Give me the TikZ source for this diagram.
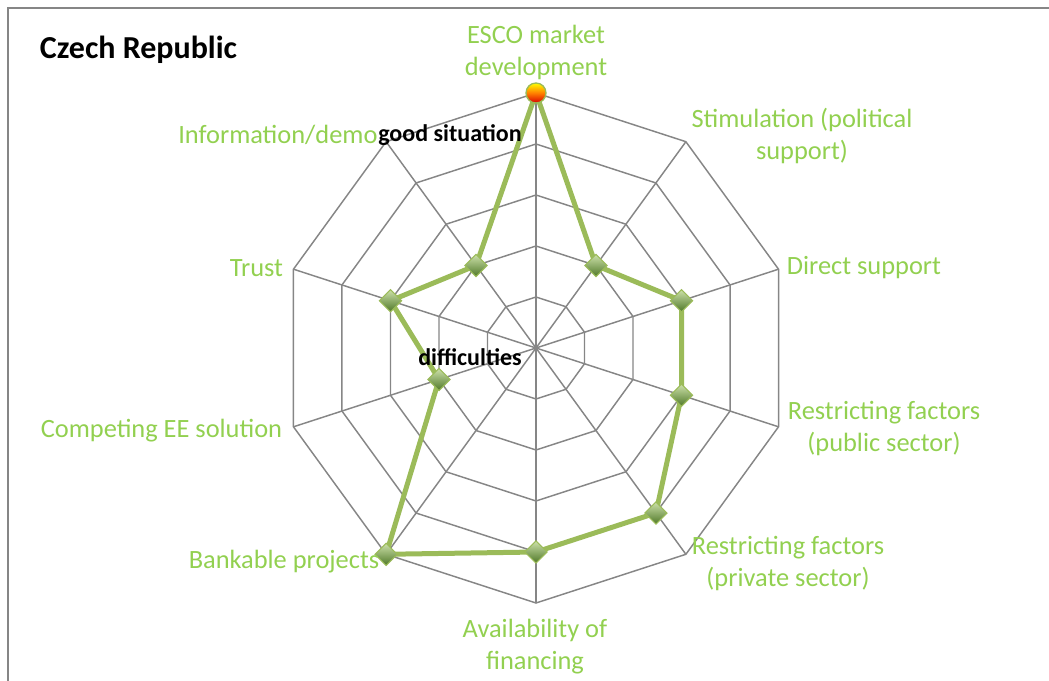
\documentclass[tikz,border=0pt]{standalone}
\usepackage{fontspec}
\setmainfont{Carlito}
\usetikzlibrary{shapes.geometric}

\definecolor{lblgreen}{RGB}{146,208,80}
\definecolor{linegreen}{RGB}{155,187,89}
\definecolor{gridgray}{RGB}{134,134,134}
\definecolor{darkgreen}{RGB}{79,120,40}
\definecolor{lightgreen}{RGB}{205,225,170}

\tikzset{
  gridline/.style={gridgray, line width=1.1pt},
  axislabel/.style={text=lblgreen, font=\fontsize{19.8}{24}\selectfont, align=center, inner sep=0pt},
  blacklabel/.style={font=\bfseries\fontsize{18}{22}\selectfont, inner sep=0pt},
  datamark/.style={diamond, draw=linegreen, line width=0.8pt, top color=lightgreen, bottom color=darkgreen, minimum size=17pt, inner sep=0pt},
  topmark/.style={circle, draw=linegreen, line width=1pt, top color=yellow, bottom color=red!85!black, middle color=orange, minimum size=15pt, inner sep=0pt}
}

\begin{document}
\begin{tikzpicture}[x=0.75pt, y=0.75pt]
    \useasboundingbox (-536,-333) rectangle (513,348);
    % frame
    \draw[gridgray, line width=1.4pt] (-528,-333) -- (-528,340) -- (513,340);

    \coordinate (o) at (0,0);

    % rings and spokes
    \foreach \r in {51,102,153,204,255}
        \draw[gridgray, line width=1.1pt] (90:\r) -- (54:\r) -- (18:\r) -- (-18:\r) -- (-54:\r)
            -- (-90:\r) -- (-126:\r) -- (-162:\r) -- (162:\r) -- (126:\r) -- cycle;
    \foreach \i in {1,...,10} {
        \coordinate (a\i) at ({126-36*\i}:255);
        \draw[gridline] (o) -- (a\i);
    }

    % data points
    \foreach \i/\v in {1/5,2/2,3/3,4/3,5/4,6/4,7/5,8/2,9/3,10/2}
        \coordinate (p\i) at ({126-36*\i}:{51*\v});
    \draw[linegreen, line width=3.75pt, line join=round]
        (p1) -- (p2) -- (p3) -- (p4) -- (p5) -- (p6) -- (p7) -- (p8) -- (p9) -- (p10) -- cycle;
    \foreach \i in {2,...,10} \node[datamark] (m\i) at (p\i) {};
    \node[topmark] (m1) at (p1) {};

    % axis labels
    \node[axislabel] (esco) at (0,296) {ESCO market\\development};
    \node[axislabel] (stim) at (266,212) {Stimulation (political\\support)};
    \node[axislabel] (direct) at (328,80) {Direct support};
    \node[axislabel] (rpub) at (348,-81) {Restricting factors\\(public sector)};
    \node[axislabel] (rpriv) at (252,-215) {Restricting factors\\(private sector)};
    \node[axislabel] (avail) at (-1,-299) {Availability of\\financing};
    \node[axislabel] (bank) at (-252,-214) {Bankable projects};
    \node[axislabel] (compet) at (-374.5,-83) {Competing EE solution};
    \node[axislabel] (trust) at (-279.5,80) {Trust};
    \node[axislabel, anchor=west] (info) at (-358,213) {Information/demo};

    \node[blacklabel] (good) at (-86,213) {good situation};
    \node[blacklabel] (diff) at (-66,-9) {difficulties};
    \node[font=\bfseries\fontsize{24}{28}\selectfont, inner sep=0pt] (title) at (-397.5,298) {Czech Republic};
\end{tikzpicture}
\end{document}
